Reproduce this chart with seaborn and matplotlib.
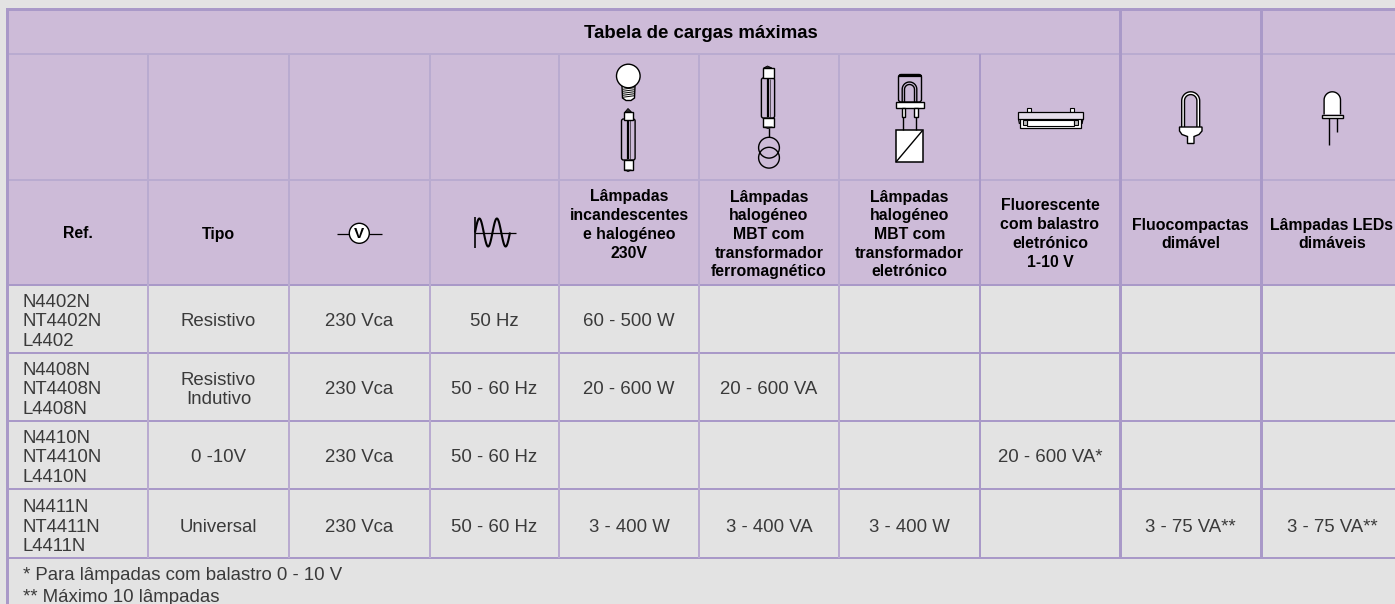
import numpy as np
import matplotlib
matplotlib.use("Agg")
import matplotlib.pyplot as plt
from matplotlib.colors import ListedColormap
from matplotlib.patches import Rectangle, Circle, Polygon, FancyBboxPatch
import seaborn as sns

# ---------- content ----------
title = "Tabela de cargas máximas"
headers = ["Ref.", "Tipo", "", "",
           "Lâmpadas\nincandescentes\ne halogéneo\n230V",
           "Lâmpadas\nhalogéneo\nMBT com\ntransformador\nferromagnético",
           "Lâmpadas\nhalogéneo\nMBT com\ntransformador\neletrónico",
           "Fluorescente\ncom balastro\neletrónico\n1-10 V",
           "Fluocompactas\ndimável",
           "Lâmpadas LEDs\ndimáveis"]
refs = ["N4402N\nNT4402N\nL4402", "N4408N\nNT4408N\nL4408N",
        "N4410N\nNT4410N\nL4410N", "N4411N\nNT4411N\nL4411N"]
tipos = ["Resistivo", "Resistivo\nIndutivo", "0 -10V", "Universal"]
tensao = ["230 Vca"] * 4
freq = ["50 Hz", "50 - 60 Hz", "50 - 60 Hz", "50 - 60 Hz"]
incand = ["60 - 500 W", "20 - 600 W", "", "3 - 400 W"]
mbt_ferro = ["", "20 - 600 VA", "", "3 - 400 VA"]
mbt_elec = ["", "", "", "3 - 400 W"]
fluor = ["", "", "20 - 600 VA*", ""]
fluoc = ["", "", "", "3 - 75 VA**"]
leds = ["", "", "", "3 - 75 VA**"]
notes = ["* Para lâmpadas com balastro 0 - 10 V", "** Máximo 10 lâmpadas"]

# ---------- layout (pixels) ----------
W, H = 1395, 604
col_x = [8, 148, 289, 430, 559, 699, 839, 980, 1120, 1261, 1395]
row_y = [10, 54, 180, 285, 353, 421, 489, 558]
BG, PURPLE, LINE, SOFT = "#e3e3e3", "#cdbbd8", "#a999c8", "#b9abd0"
INK, BODY = "#000000", "#3a3a3a"

sns.set_theme(style="white")
plt.rcParams["font.family"] = ["Liberation Sans", "DejaVu Sans"]

grid = np.zeros((H, W), dtype=int)
grid[8:285, 7:] = 1                    # purple header block
grid[8:11, 6:] = 2                     # top border
for y in (54, 180):
    grid[y - 1: y + 1, 9:] = 3
for y in (285, 353, 421, 489, 558):
    grid[y - 1: y + 1, 9:] = 2
for x in col_x[1:-1]:
    grid[54:558, x - 1: x + 1] = 3
    if x in (1120, 1261):
        grid[10:558, x - 1: x + 2] = 2
    elif x == 980:
        grid[54:558, x - 1: x + 1] = 2
grid[8:, 6:9] = 2                      # left border

fig = plt.figure(figsize=(W / 100, H / 100), dpi=100)
ax = fig.add_axes([0, 0, 1, 1])
sns.heatmap(grid, ax=ax, cmap=ListedColormap([BG, PURPLE, LINE, SOFT]), vmin=0, vmax=3,
            cbar=False, xticklabels=False, yticklabels=False)
ax.set_xlim(0, W)
ax.set_ylim(H, 0)
ax.axis("off")

BOLD = dict(fontsize=11.4, fontweight="bold", color=INK, ha="center", va="center",
            linespacing=1.31)
PLAIN = dict(fontsize=13.4, color=BODY, va="center", linespacing=1.23)

ax.text(700.5, 33, title, fontsize=13.4, fontweight="bold", color=INK, ha="center", va="center")
centres = [(a + b) / 2 for a, b in zip(col_x[:-1], col_x[1:])]
centres[-1] = 1332
header_y = [234, 234, 234, 234, 225, 234.5, 234.5, 234, 234.5, 234.5]
for cx, h, hy in zip(centres, headers, header_y):
    if h:
        ax.text(cx, hy, h, **BOLD)

columns = [tipos, tensao, freq, incand, mbt_ferro, mbt_elec, fluor, fluoc, leds]
row_mid = [322, 390, 458, 527]
for i, ym in enumerate(row_mid):
    ax.text(23, ym, refs[i], ha="left", **PLAIN)
    for c, vals in enumerate(columns, start=1):
        if vals[i]:
            ax.text(centres[c], ym, vals[i], ha="center", **PLAIN)
ax.text(23, 576, notes[0], ha="left", **PLAIN)
ax.text(23, 598, notes[1], ha="left", **PLAIN)

# ---------- pictograms ----------
LW = 1.0
def rect(x0, y0, x1, y1, fc="white", lw=LW, z=3):
    ax.add_patch(Rectangle((x0, y0), x1 - x0, y1 - y0, fc=fc, ec="black", lw=lw, zorder=z))
def round_rect(x0, y0, x1, y1, r, fc="none", lw=LW, z=3):
    ax.add_patch(FancyBboxPatch((x0 + r, y0 + r), x1 - x0 - 2 * r, y1 - y0 - 2 * r,
                                boxstyle=f"round,pad={r},rounding_size={r}",
                                fc=fc, ec="black", lw=lw, zorder=z))
def line(xs, ys, lw=LW, z=4):
    ax.plot(xs, ys, color="black", lw=lw, zorder=z, solid_capstyle="butt")
def arch(cx, r, ytop, ybot, fc="white", lw=LW, z=3):
    t = np.linspace(np.pi, 2 * np.pi, 30)
    xs = np.r_[cx - r, cx + r * np.cos(t), cx + r]
    ys = np.r_[ybot, ytop + r + r * np.sin(t), ybot]
    ax.add_patch(Polygon(np.c_[xs, ys], closed=False, fc=fc, ec="black", lw=lw, zorder=z))
def tube(cx, y0, y1, half):
    round_rect(cx - half, y0, cx + half, y1, 2, fc="none")
    line([cx, cx], [y0 + 1, y1 - 1], lw=1.6)
    line([cx - 1.5, cx - 1.5], [y0 + 1, y1 - 1], lw=0.4)
    line([cx + 1.5, cx + 1.5], [y0 + 1, y1 - 1], lw=0.4)

# voltmeter
line([337, 382], [233.5, 233.5], lw=0.9)
ax.add_patch(Circle((359.3, 233.3), 10, fc="white", ec="black", lw=1.0, zorder=5))
ax.text(359.3, 233.6, "V", fontsize=11, fontweight="bold", color="black",
        ha="center", va="center", zorder=6)

# wave
line([475, 475], [217, 248], lw=1.2)
line([475, 516], [232.5, 232.5], lw=0.9)
wx = np.linspace(475, 510, 120)
line(wx, 232.5 - 14 * np.sin((wx - 475) / 35 * 4 * np.pi), lw=1.5)

# bulb + tube
cx = 628.3
ax.add_patch(Polygon([[622, 86], [635, 86], [634.5, 98], [631, 100.5], [626, 100.5], [622.5, 98]],
                     closed=True, fc="white", ec="black", lw=LW, zorder=3))
ax.add_patch(Circle((cx, 76), 11.8, fc="white", ec="black", lw=LW, zorder=4))
for y in np.arange(88.5, 98.5, 2):
    line([622.5, 634.5], [y + 0.8, y - 0.8], lw=0.7)
tube(cx, 119, 160, 6.8)
rect(623.5, 112, 633, 120)
rect(623.5, 160, 633, 170)
ax.add_patch(Polygon([[625, 112], [628, 108.5], [631.5, 112]], closed=True, fc="#333333", ec="black", lw=0.6, zorder=3))
ax.add_patch(Polygon([[625, 170], [628, 171.5], [631.5, 170]], closed=True, fc="#333333", ec="black", lw=0.6, zorder=3))

# halogen + toroidal transformer
cx = 768
tube(cx, 78, 118, 6.6)
rect(762.5, 68, 773.5, 78)
rect(762.5, 118, 773.5, 127)
ax.add_patch(Polygon([[763.5, 68], [767.5, 66], [772, 68]], closed=True, fc="#333333", ec="black", lw=0.6, zorder=3))
ax.add_patch(Polygon([[763.5, 127], [768, 128.5], [772.5, 127]], closed=True, fc="#333333", ec="black", lw=0.6, zorder=3))
line([cx + 1, cx + 1], [128, 137])
ax.add_patch(Circle((769, 147.7), 10.4, fc="none", ec="black", lw=LW, zorder=3))
ax.add_patch(Circle((769, 157.7), 10.4, fc="none", ec="black", lw=LW, zorder=3))

# G9 capsule + electronic transformer
round_rect(898.5, 74.5, 921.5, 102, 2.5, fc="none")
line([898.5, 921.5], [75.5, 75.5], lw=1.6)
cx = 909.5
arch(cx, 7.3, 82, 102, fc="none")
arch(cx, 5, 84.5, 102, fc="none")
rect(895.7, 101.7, 924.3, 108.3)
rect(901.7, 108.3, 905, 117)
rect(914.3, 108.3, 917.5, 117)
line([903.3, 903.3], [117, 130])
line([916, 916], [117, 130])
rect(895.7, 130, 922.7, 162.3, lw=1.1)
line([896, 922.5], [162, 130.5])

# fluorescent batten
rect(1027, 108, 1031, 112, lw=0.8)
rect(1070, 108, 1074, 112, lw=0.8)
rect(1019.5, 118, 1081, 127.5, lw=0.9)
rect(1017.5, 111.7, 1083.3, 119, fc="#e6dfeb", lw=0.9, z=3)
line([1018.5, 1019.5], [119, 124], lw=0.9)
line([1083, 1082], [119, 124], lw=0.9)
rect(1027, 119.5, 1074, 125.5, lw=0.8, z=4)
rect(1023, 120, 1027, 125, fc="#bdbdbd", lw=0.8, z=4)
rect(1074, 120, 1078, 125, fc="#bdbdbd", lw=0.8, z=4)

# compact fluorescent
cx = 1190.7
arch(cx, 9, 91.8, 127)
arch(cx, 6.2, 94.6, 127, fc=PURPLE)
ax.add_patch(Polygon([[1179.5, 127], [1202, 127], [1202, 131], [1199, 134.5], [1194, 136.5], [1194, 143.5],
                      [1187.5, 143.5], [1187.5, 136.5], [1182, 134.5], [1179.5, 131]],
                     closed=True, fc="white", ec="black", lw=LW, zorder=4))

# LED
cx = 1332.3
arch(cx, 8.2, 91.8, 114.5)
rect(1322, 114.5, 1342.6, 118)
line([1328.5, 1328.5], [118, 145])
line([1336.8, 1336.8], [118, 131.5])

fig.savefig("out.png", dpi=100)
